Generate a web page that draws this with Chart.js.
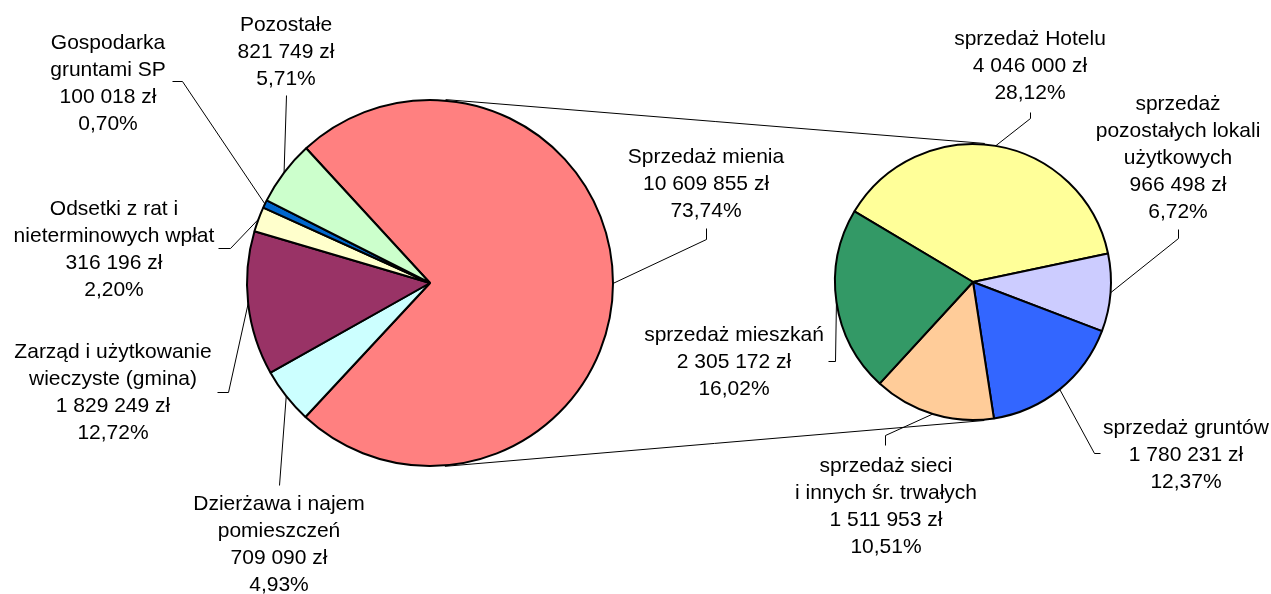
<!DOCTYPE html>
<html>
<head>
<meta charset="utf-8">
<script src="https://cdn.jsdelivr.net/npm/chart.js@4.4.1/dist/chart.umd.min.js"></script>
<style>
  html, body { margin:0; padding:0; background:#fff; }
  #wrap { position:relative; width:1271px; height:594px; }
  #wrap canvas { position:absolute; left:0; top:0; }
</style>
</head>
<body>
<div id="wrap">
  <canvas id="mainPie" width="1271" height="594"></canvas>
  <canvas id="subPie" width="1271" height="594"></canvas>
</div>
<script>
// main pie: revenue sources
const mainNames = [
  ['Sprzedaż mienia'],
  ['Dzierżawa i najem', 'pomieszczeń'],
  ['Zarząd i użytkowanie', 'wieczyste (gmina)'],
  ['Odsetki z rat i', 'nieterminowych wpłat'],
  ['Gospodarka', 'gruntami SP'],
  ['Pozostałe']
];
const mainValues = [10609855, 709090, 1829249, 316196, 100018, 821749];
const mainPcts = ['73,74%', '4,93%', '12,72%', '2,20%', '0,70%', '5,71%'];
const mainColors = ['#FF8080', '#CCFFFF', '#993366', '#FFFFCC', '#0066CC', '#CCFFCC'];

// second pie: breakdown of "Sprzedaż mienia"
const subNames = [
  ['sprzedaż Hotelu'],
  ['sprzedaż', 'pozostałych lokali', 'użytkowych'],
  ['sprzedaż gruntów'],
  ['sprzedaż sieci', 'i innych śr. trwałych'],
  ['sprzedaż mieszkań']
];
const subValues = [4046000, 966498, 1780231, 1511953, 2305172];
const subPcts = ['28,12%', '6,72%', '12,37%', '10,51%', '16,02%'];
const subColors = ['#FFFF99', '#CCCCFF', '#3366FF', '#FFCC99', '#339966'];

// label placement: text centre x, first baseline y, leader points (arc end added automatically)
const mainLayout = [
  {x:706, y:163, leader:[[706,228],[706,239]]},
  {x:279, y:510, leader:[[279,485]]},
  {x:113, y:358, leader:[[217,392],[228,392]]},
  {x:114, y:215, leader:[[218,248],[230,248]]},
  {x:108, y:49,  leader:[[172,81],[182,81]]},
  {x:286, y:31,  leader:[[286,95]]}
];
const subLayout = [
  {x:1030, y:45,  leader:[[1030,112],[1030,118]]},
  {x:1178, y:110, leader:[[1178,229],[1178,238]]},
  {x:1186, y:434, leader:[[1100,453],[1094,453]]},
  {x:886,  y:472, leader:[[885,445],[885,435]]},
  {x:734,  y:341, leader:[[828,361],[835,361]]}
];

const FONT = '21px "Liberation Sans", Arial, sans-serif';
const LINE_H = 27;

function fmtZl(v){
  return String(v).replace(/\B(?=(\d{3})+(?!\d))/g, ' ') + ' zł';
}

function makeLabelPlugin(names, values, pcts, layout){
  return {
    id: 'sliceLabels',
    afterDraw(chart){
      const ctx = chart.ctx;
      const arcs = chart.getDatasetMeta(0).data;
      ctx.save();
      ctx.font = FONT;
      ctx.fillStyle = '#000';
      ctx.strokeStyle = '#000';
      ctx.lineWidth = 1;
      ctx.textAlign = 'center';
      ctx.textBaseline = 'alphabetic';
      layout.forEach((pos, i) => {
        const a = arcs[i];
        const mid = (a.startAngle + a.endAngle) / 2;
        const ex = a.x + Math.cos(mid) * a.outerRadius;
        const ey = a.y + Math.sin(mid) * a.outerRadius;
        ctx.beginPath();
        ctx.moveTo(pos.leader[0][0] + 0.5, pos.leader[0][1] + 0.5);
        pos.leader.slice(1).forEach(p => ctx.lineTo(p[0] + 0.5, p[1] + 0.5));
        ctx.lineTo(ex, ey);
        ctx.stroke();
        const lines = names[i].concat([fmtZl(values[i]), pcts[i]]);
        lines.forEach((t, k) => ctx.fillText(t, pos.x, pos.y + k * LINE_H));
      });
      ctx.restore();
    }
  };
}

// common external tangents between the two pies
const connectorPlugin = {
  id: 'connectors',
  afterDraw(chart){
    const a1 = mainChart.getDatasetMeta(0).data[0];
    const a2 = chart.getDatasetMeta(0).data[0];
    const x1 = a1.x, y1 = a1.y, r1 = a1.outerRadius + 1;
    const x2 = a2.x, y2 = a2.y, r2 = a2.outerRadius + 1;
    const d = Math.hypot(x2 - x1, y2 - y1);
    const ux = (x2 - x1) / d, uy = (y2 - y1) / d;
    const c = (r1 - r2) / d, s = Math.sqrt(1 - c * c);
    const ctx = chart.ctx;
    ctx.save();
    ctx.strokeStyle = '#000';
    ctx.lineWidth = 1;
    [-1, 1].forEach(sign => {
      // perpendicular (uy,-ux) points up when u points right
      const nx = ux * c + sign * -uy * s * -1;
      const ny = uy * c + sign * ux * s;
      ctx.beginPath();
      ctx.moveTo(x1 + r1 * nx, y1 + r1 * ny);
      ctx.lineTo(x2 + r2 * nx, y2 + r2 * ny);
      ctx.stroke();
    });
    ctx.restore();
  }
};

function pieOptions(rotation, padding){
  return {
    responsive: false,
    animation: false,
    rotation: rotation,
    layout: { padding: padding },
    plugins: { legend: { display:false }, tooltip: { enabled:false } },
    events: []
  };
}

const mainChart = new Chart(document.getElementById('mainPie').getContext('2d'), {
  type: 'pie',
  data: {
    labels: mainNames.map(n => n.join(' ')),
    datasets: [{ data: mainValues, backgroundColor: mainColors, borderColor: '#000', borderWidth: 2 }]
  },
  options: pieOptions(-42.6, {left:246, right:657, top:99, bottom:127}),
  plugins: [makeLabelPlugin(mainNames, mainValues, mainPcts, mainLayout)]
});

const subChart = new Chart(document.getElementById('subPie').getContext('2d'), {
  type: 'pie',
  data: {
    labels: subNames.map(n => n.join(' ')),
    datasets: [{ data: subValues, backgroundColor: subColors, borderColor: '#000', borderWidth: 2 }]
  },
  options: pieOptions(-59.2, {left:834, right:159, top:143, bottom:173}),
  plugins: [connectorPlugin, makeLabelPlugin(subNames, subValues, subPcts, subLayout)]
});
</script>
</body>
</html>
